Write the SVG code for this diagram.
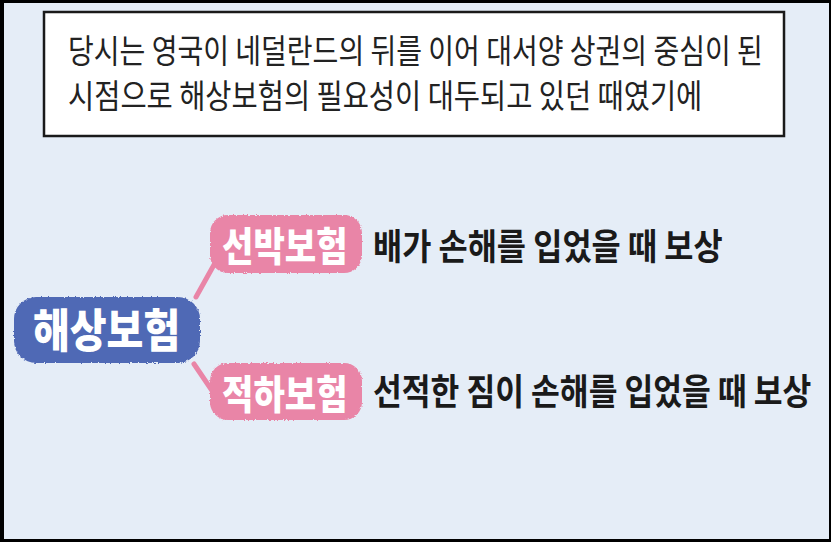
<svg xmlns="http://www.w3.org/2000/svg" width="831" height="542" viewBox="0 0 831 542">
<defs>
<filter id="rough" x="-5%" y="-10%" width="110%" height="120%">
<feTurbulence type="fractalNoise" baseFrequency="0.6" numOctaves="2" seed="3" result="n"/>
<feDisplacementMap in="SourceGraphic" in2="n" scale="3" xChannelSelector="R" yChannelSelector="G"/>
</filter>
<style>
.kr{font-family:"Noto Sans CJK KR","Noto Sans",sans-serif;}
.intro{font-size:33px;fill:#222;font-weight:400;}
.lbl{font-size:36px;fill:#1a1a1a;font-weight:700;}
.ntxt{fill:#ffffff;font-weight:900;}
.pink{fill:#e985a7;}
.blue{fill:#5069b5;}
.conn{stroke:#e985a7;stroke-width:5;stroke-linecap:round;fill:none;}
</style>
</defs>
<rect x="0" y="0" width="831" height="542" fill="#000"/>
<rect x="4" y="3" width="825" height="536" fill="#e5edf7"/>
<g id="intro">
<rect x="44" y="12" width="740" height="124" fill="#fff" stroke="#1a1a1a" stroke-width="2.5"/>
<text class="kr intro" transform="translate(68,63) scale(0.72,1)" x="0" y="0" textLength="965" lengthAdjust="spacingAndGlyphs">당시는 영국이 네덜란드의 뒤를 이어 대서양 상권의 중심이 된</text>
<text class="kr intro" transform="translate(68,108) scale(0.72,1)" x="0" y="0" textLength="881" lengthAdjust="spacingAndGlyphs">시점으로 해상보험의 필요성이 대두되고 있던 때였기에</text>
</g>
<g id="connectors">
<line class="conn" x1="196" y1="297" x2="215" y2="263"/>
<line class="conn" x1="194" y1="364" x2="213" y2="392"/>
</g>
<g id="node-main">
<rect class="blue" x="14" y="297" width="186" height="66" rx="22" filter="url(#rough)"/>
<text class="kr ntxt" transform="translate(33,347) scale(0.8,1)" x="0" y="0" font-size="46" textLength="184" lengthAdjust="spacingAndGlyphs">해상보험</text>
</g>
<g id="node-ship">
<rect class="pink" x="210" y="215" width="152" height="58" rx="18" filter="url(#rough)"/>
<text class="kr ntxt" transform="translate(222,261) scale(0.8,1)" x="0" y="0" font-size="40" textLength="157" lengthAdjust="spacingAndGlyphs">선박보험</text>
</g>
<g id="node-cargo">
<rect class="pink" x="210" y="363" width="152" height="57" rx="18" filter="url(#rough)"/>
<text class="kr ntxt" transform="translate(222,409) scale(0.8,1)" x="0" y="0" font-size="40" textLength="157" lengthAdjust="spacingAndGlyphs">적하보험</text>
</g>
<g id="label-ship">
<text class="kr lbl" transform="translate(373,260) scale(0.8,1)" x="0" y="0" textLength="437" lengthAdjust="spacingAndGlyphs">배가 손해를 입었을 때 보상</text>
</g>
<g id="label-cargo">
<text class="kr lbl" transform="translate(373,405) scale(0.8,1)" x="0" y="0" textLength="548" lengthAdjust="spacingAndGlyphs">선적한 짐이 손해를 입었을 때 보상</text>
</g>
</svg>
